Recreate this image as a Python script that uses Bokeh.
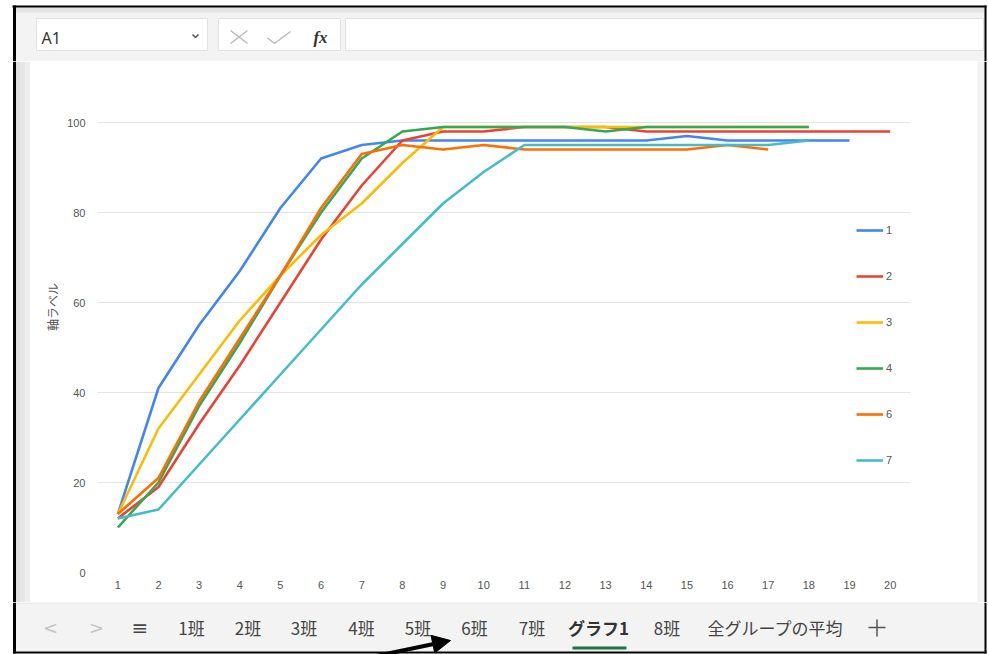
from bokeh.plotting import figure
from bokeh.models import Range1d, FixedTicker, Legend, LegendItem, Arrow, NormalHead
from bokeh.layouts import column, row
from bokeh.core.properties import value
from bokeh.embed import file_html
from bokeh.resources import INLINE

# ---------------- data ----------------
series_names = ["1", "2", "3", "4", "6", "7"]
s1 = [13, 41, 55, 67, 81, 92, 95, 96, 96, 96, 96, 96, 96, 96, 97, 96, 96, 96, 96]
s2 = [12, 19, 33, 46, 60, 74, 86, 96, 98, 98, 99, 99, 99, 98, 98, 98, 98, 98, 98, 98]
s3 = [13, 32, 44, 56, 66, 75, 82, 91, 99, 99, 99, 99, 99, 99, 99, 99, 99, 99]
s4 = [10, 20, 37, 51, 66, 80, 92, 98, 99, 99, 99, 99, 98, 99, 99, 99, 99, 99]
s6 = [13, 21, 38, 52, 66, 81, 93, 95, 94, 95, 94, 94, 94, 94, 94, 95, 94]
s7 = [12, 14, 24, 34, 44, 54, 64, 73, 82, 89, 95, 95, 95, 95, 95, 95, 95, 96]
x_ticks = list(range(1, 21))
y_ticks = [0, 20, 40, 60, 80, 100]
y_axis_title = "軸ラベル"
tab_labels = ["1班", "2班", "3班", "4班", "5班", "6班", "7班", "グラフ1", "8班", "全グループの平均"]
name_box_text = "A1"

colors = ["#4285F4", "#EA4335", "#FBBC04", "#34A853", "#FF6D01", "#46BDC6"]
all_series = [s1, s2, s3, s4, s6, s7]

# ---------------- page geometry (pixels) ----------------
W, H = 988, 654
TOP_H = 61            # formula-bar strip
BOT_Y = 602           # sheet-tab strip starts here
MID_H = BOT_Y - TOP_H
CH_L, CH_R = 30, 977  # white chart panel
FR_L, FR_R, FR_T, FR_B = 97, 910, 113, 572   # plot frame

GRAY = "#f3f3f3"
JP = "Noto Sans CJK JP"


def no_align(f):
    try:
        f.frame_align = False
    except Exception:
        pass


def ui_fig(x0, x1, y0, y1):
    f = figure(width=x1 - x0, height=y1 - y0, output_backend="svg", toolbar_location=None,
               x_range=Range1d(x0, x1), y_range=Range1d(y1, y0),
               x_axis_type=None, y_axis_type=None,
               min_border_left=0, min_border_right=0, min_border_top=0, min_border_bottom=0)
    f.outline_line_color = None
    f.background_fill_color = "white"
    f.border_fill_color = "white"
    f.grid.visible = False
    no_align(f)
    return f


def rects(f, items, line=None):
    for l, t, r, b, c in items:
        f.quad(left=l, right=r, top=t, bottom=b, fill_color=c, line_color=line)


def texts(f, xs, ys, ts, size, color, font=JP, style="normal", align="center"):
    f.text(x=xs, y=ys, text=ts, text_font=value(font), text_font_size=value(size),
           text_color=color, text_align=align, text_baseline="middle",
           text_font_style=style)


# ---------------- top strip: name box / formula bar ----------------
top = ui_fig(0, W, 0, TOP_H)
rects(top, [(12, 5, 986, 61, GRAY), (15, 7, 984, 12, "#e3e3e3"),
            (12, 5, 986, 7, "black"), (12.5, 5, 15.5, 61, "black"), (984, 5, 986, 61, "black")])
rects(top, [(36, 18, 207, 50, "white"), (218, 18, 340, 50, "white"), (345, 18, 983, 50, "white")],
      line="#e1e1e1")
texts(top, [41], [37], [name_box_text], "16px", "#333333", font="Noto Sans", align="left")
top.line([192, 195, 198], [34, 37, 34], line_color="#555555", line_width=1.5)
top.segment(x0=[230, 230], y0=[30, 43], x1=[247, 247], y1=[43, 30], line_color="#b8b8b8", line_width=1.4)
top.line([267, 274, 290], [37.5, 43, 31], line_color="#b8b8b8", line_width=1.4)
texts(top, [320], [37], ["fx"], "17px", "#333333", font="Liberation Serif", style="bold italic")

# ---------------- side strips ----------------
left = ui_fig(0, CH_L, TOP_H, BOT_Y)
rects(left, [(12.5, TOP_H, 15.5, BOT_Y, "black"), (15.5, TOP_H, 20, BOT_Y, "#dedede"),
             (20, TOP_H, 25, BOT_Y, "#e6e6e6"), (25, TOP_H, 30, BOT_Y, "#eeeeee")])
right = ui_fig(CH_R, W, TOP_H, BOT_Y)
rects(right, [(977, TOP_H, 978, BOT_Y, "#e0e0e0"), (978, TOP_H, 984, BOT_Y, GRAY),
              (984, TOP_H, 986, BOT_Y, "black")])

# ---------------- chart ----------------
p = figure(width=CH_R - CH_L, height=MID_H, output_backend="svg", toolbar_location=None,
           x_range=Range1d(0.5, 20.5), y_range=Range1d(0, 102),
           min_border_left=FR_L - CH_L, min_border_right=CH_R - FR_R,
           min_border_top=FR_T - TOP_H, min_border_bottom=BOT_Y - FR_B)
no_align(p)
p.outline_line_color = None
p.background_fill_color = "white"
p.border_fill_color = "white"
p.xgrid.grid_line_color = None
p.ygrid.grid_line_color = "#e3e3e3"
p.ygrid.grid_line_width = 1

for ax in (p.xaxis[0], p.yaxis[0]):
    ax.axis_line_color = None
    ax.major_tick_line_color = None
    ax.minor_tick_line_color = None
    ax.major_tick_out = 0
    ax.major_tick_in = 0
    ax.minor_tick_out = 0
    ax.minor_tick_in = 0
    ax.major_label_text_font = "Liberation Sans"
    ax.major_label_text_font_size = "11px"
    ax.major_label_text_color = "#555555"
p.xaxis.ticker = FixedTicker(ticks=x_ticks)
p.yaxis.ticker = FixedTicker(ticks=y_ticks)
p.xaxis.major_label_standoff = 8
p.yaxis.major_label_standoff = 12
p.yaxis.axis_label = "\u3000" * 6 + y_axis_title
p.yaxis.axis_label_standoff = 3
p.yaxis.axis_label_text_font = JP
p.yaxis.axis_label_text_font_size = "12px"
p.yaxis.axis_label_text_font_style = "normal"
p.yaxis.axis_label_text_color = "#555555"

renderers = []
for name, ys, c in zip(series_names, all_series, colors):
    xs = x_ticks[:len(ys)]
    renderers.append(p.line(xs, ys, line_color=c, line_width=2.6, line_join="round"))

legend = Legend(items=[LegendItem(label=n, renderers=[r]) for n, r in zip(series_names, renderers)],
                location=(856 - FR_L, FR_B - 470),
                glyph_width=27, glyph_height=20, label_height=20, spacing=26,
                padding=0, margin=0, label_standoff=3,
                border_line_color=None, background_fill_alpha=0,
                label_text_font="Liberation Sans", label_text_font_size="11px",
                label_text_color="#555555")
p.add_layout(legend)

# ---------------- bottom strip: sheet tabs ----------------
bot = ui_fig(0, W, BOT_Y, H)
rects(bot, [(12, BOT_Y, 986, 651, GRAY), (15.5, BOT_Y, 977, 603, "#e3e3e3"),
            (12.5, BOT_Y, 15.5, 653, "black"), (984, BOT_Y, 986, 653, "black"),
            (12.5, 651, 986, 653, "black"), (572, 646, 626, 649, "#217346")])
texts(bot, [50, 96], [627, 627], ["<", ">"], "18px", "#c4c4c4", font="DejaVu Sans")
texts(bot, [139.5], [627], ["≡"], "20px", "#444444", font="DejaVu Sans")
tab_x = [191, 247.5, 303.5, 361, 417.5, 474, 531.5, 598, 666.5, 775]
plain = [i for i, t in enumerate(tab_labels) if t != "グラフ1"]
texts(bot, [tab_x[i] for i in plain], [627] * len(plain), [tab_labels[i] for i in plain],
      "17px", "#444444")
texts(bot, [tab_x[7]], [627], [tab_labels[7]], "17px", "#333333", style="bold")
bot.segment(x0=[868, 876.5], y0=[627, 619], x1=[885, 876.5], y1=[627, 636],
            line_color="#555555", line_width=1.5)
bot.add_layout(Arrow(x_start=330, y_start=665, x_end=450, y_end=640,
                     line_color="black", line_width=4,
                     end=NormalHead(size=18, fill_color="black", line_color="black")))

layout = column(top, row(left, p, right), bot)
open("out.html", "w").write(file_html(layout, INLINE))
